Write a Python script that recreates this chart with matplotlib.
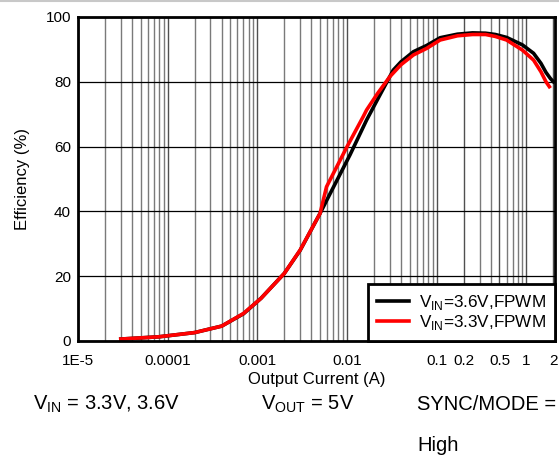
import matplotlib
matplotlib.use("Agg")
import matplotlib.pyplot as plt
from matplotlib.ticker import FixedLocator, FixedFormatter, LogLocator, NullFormatter
from matplotlib.lines import Line2D

plt.rcParams['font.family'] = ['Liberation Sans', 'DejaVu Sans']
plt.rcParams['mathtext.fontset'] = 'custom'
plt.rcParams['mathtext.rm'] = 'Liberation Sans'

# Data
x_36 = [3e-5, 8e-5, 2e-4, 4e-4, 7e-4, 1.1e-3, 2e-3, 3e-3, 5e-3, 6.5e-3, 0.0108, 0.0165,
        0.022, 0.0327, 0.04, 0.055, 0.077, 0.109, 0.17, 0.25, 0.35, 0.45, 0.6, 0.9,
        1.2, 1.45, 1.65, 1.85, 2.0]
y_36 = [0.6, 1.3, 2.6, 4.6, 8.4, 13.2, 20.9, 28.0, 39.4, 45.6, 57.5, 68.2,
        74.7, 83.6, 86.2, 89.3, 91.2, 93.6, 94.7, 95.1, 95.0, 94.6, 93.7, 91.4,
        88.8, 85.7, 82.9, 81.0, 80.0]

x_33 = [3e-5, 8e-5, 2e-4, 4e-4, 7e-4, 1.1e-3, 2e-3, 3e-3, 5e-3, 5.9e-3, 0.01, 0.0151,
        0.0165, 0.022, 0.03, 0.04, 0.055, 0.077, 0.109, 0.17, 0.25, 0.35, 0.45, 0.6,
        0.9, 1.2, 1.45, 1.65, 1.8]
y_33 = [0.6, 1.3, 2.6, 4.6, 8.5, 13.2, 20.9, 28.1, 39.4, 47.6, 60.0, 69.2,
        71.3, 76.5, 81.6, 85.3, 88.3, 90.3, 92.9, 94.2, 94.6, 94.6, 94.0, 92.9,
        89.8, 86.7, 83.1, 80.0, 78.5]

x_ticks = [1e-5, 1e-4, 1e-3, 1e-2, 0.1, 0.2, 0.5, 1, 2]
x_tick_labels = ["1E-5", "0.0001", "0.001", "0.01", "0.1", "0.2", "0.5", "1", "2"]
y_ticks = [0, 20, 40, 60, 80, 100]
labels = [r"V$_{\mathrm{IN}}$=3.6V,FPWM", r"V$_{\mathrm{IN}}$=3.3V,FPWM"]

fig = plt.figure(figsize=(5.59, 4.58), dpi=100)
ax = fig.add_axes([78/559, 1 - 341/458, (555-78)/559, (341-17)/458])

ax.set_xscale('log')
ax.set_xlim(1e-5, 2.08)
ax.set_ylim(0, 100)

# grid
ax.xaxis.set_minor_locator(LogLocator(base=10, subs=range(2, 10), numticks=20))
ax.xaxis.set_minor_formatter(NullFormatter())
ax.grid(True, which='minor', axis='x', color='#7a7a7a', lw=1.0)
ax.grid(True, which='major', axis='x', color='#505050', lw=1.0)
ax.grid(True, which='major', axis='y', color='#000000', lw=0.9)
ax.set_axisbelow(True)

ax.plot(x_36, y_36, color='black', lw=2.6, label=labels[0], solid_joinstyle='round')
ax.plot(x_33, y_33, color='#ff0000', lw=2.6, label=labels[1], solid_joinstyle='round')

ax.xaxis.set_major_locator(FixedLocator(x_ticks))
ax.xaxis.set_major_formatter(FixedFormatter(x_tick_labels))
ax.set_yticks(y_ticks)
ax.tick_params(which='both', length=0)
ax.tick_params(axis='x', pad=9.5, labelsize=11)
ax.tick_params(axis='y', pad=5, labelsize=11)

for s in ax.spines.values():
    s.set_linewidth(2.0)
    s.set_color('black')

ax.set_xlabel("Output Current (A)", fontsize=12, labelpad=3)
ax.set_ylabel("Efficiency (%)", fontsize=12, labelpad=11)

leg = ax.legend(loc='lower right', fontsize=12.3, frameon=True, fancybox=False,
                borderaxespad=0, handlelength=1.9, handletextpad=0.6,
                borderpad=0.5, labelspacing=0.1)
leg.get_frame().set_edgecolor('black')
leg.get_frame().set_linewidth(2.0)
leg.get_frame().set_alpha(1)

# bottom conditions text
fig.text(33/559, 1 - 410/458, r"V$_{\mathrm{IN}}$ = 3.3V, 3.6V", fontsize=14.5, va='baseline')
fig.text(261/559, 1 - 410/458, r"V$_{\mathrm{OUT}}$ = 5V", fontsize=14.5, va='baseline')
fig.text(417/559, 1 - 410/458, "SYNC/MODE =", fontsize=14.5, va='baseline')
fig.text(417/559, 1 - 451/458, "High", fontsize=14.5, va='baseline')

# top light border
fig.add_artist(Line2D([0, 1], [1 - 0.5/458, 1 - 0.5/458], color='#c8c8c8', lw=1.5,
                      transform=fig.transFigure))

fig.savefig("out.png", dpi=100)
